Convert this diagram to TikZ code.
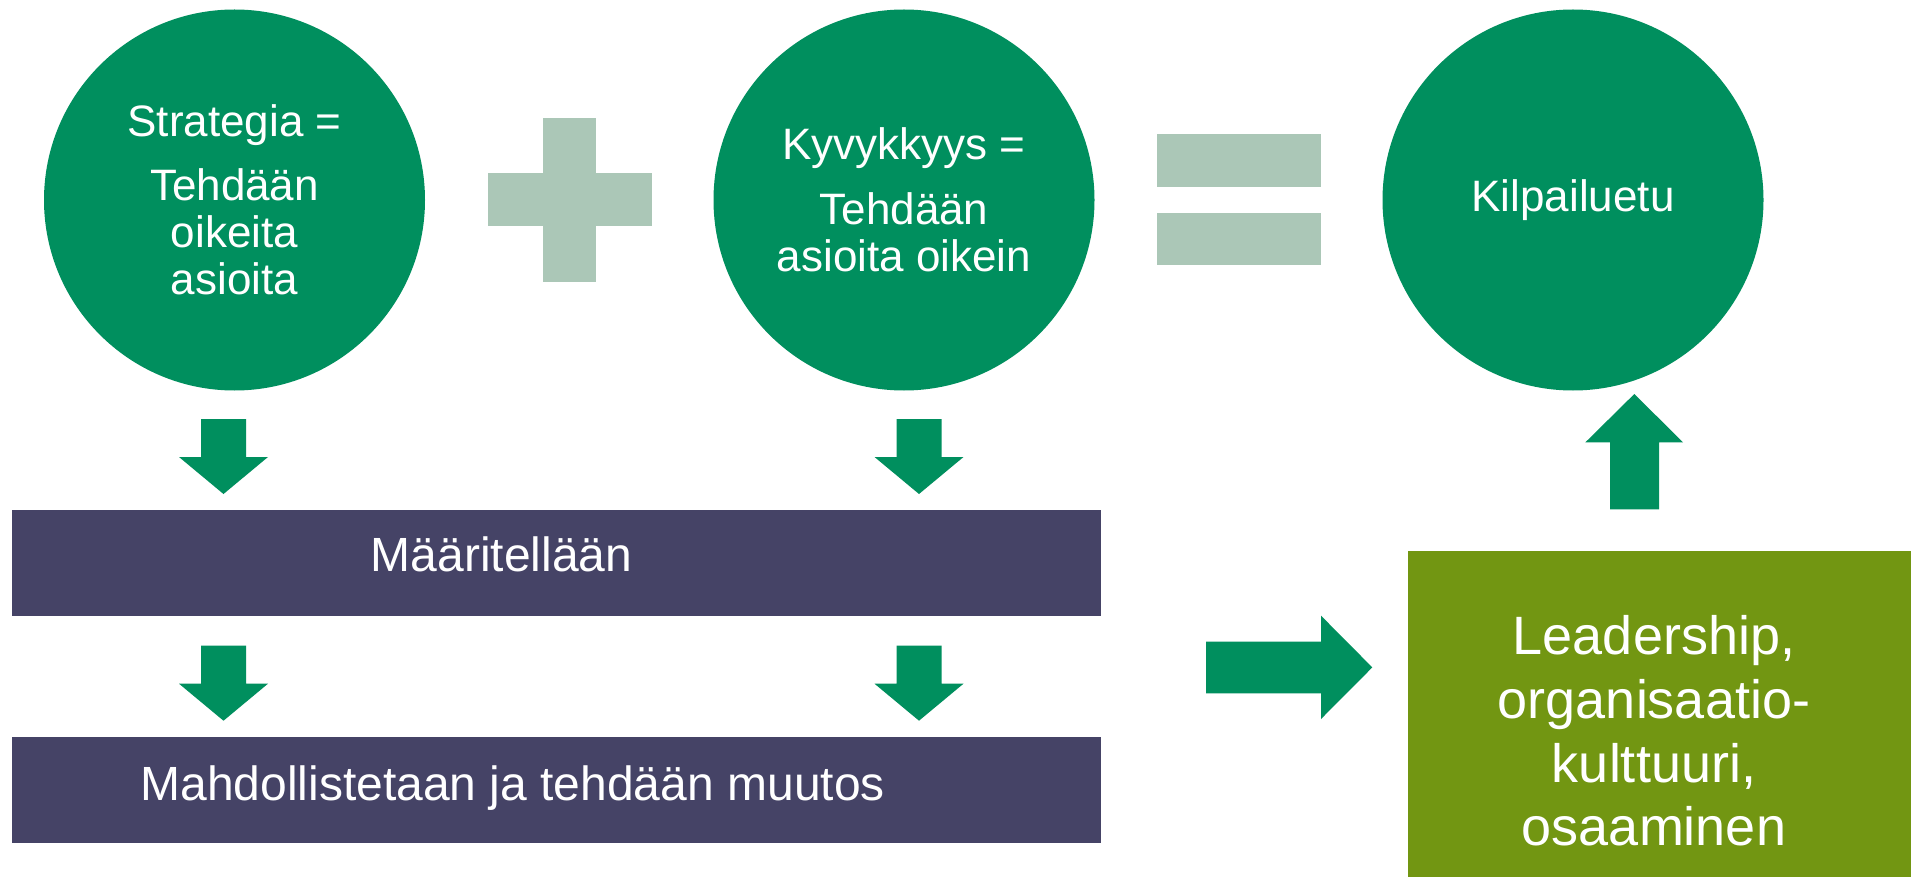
\documentclass[tikz,border=0pt]{standalone}
\usepackage{fontspec}
\setmainfont{Liberation Sans}
\definecolor{circgreen}{HTML}{008F5E}
\definecolor{opgray}{HTML}{ABC7B7}
\definecolor{barpurple}{HTML}{454366}
\definecolor{olivebox}{HTML}{729612}
\begin{document}
\begin{tikzpicture}[x=1pt,y=-1pt,
  circ/.style={circle,fill=circgreen,minimum size=381pt,inner sep=0pt,text=white,align=center,font=\fontsize{44}{47}\selectfont},
  barbox/.style={rectangle,fill=barpurple,inner sep=0pt,minimum width=1089pt,minimum height=105.7pt},
  bartext/.style={anchor=base,text=white,inner sep=0pt,font=\fontsize{48}{54}\selectfont},
  leadbox/.style={rectangle,fill=olivebox,inner sep=0pt,minimum width=520pt,minimum height=350pt},
  leadtext/.style={text=white,align=center,inner sep=0pt,font=\fontsize{54}{63.7}\selectfont},
  opfill/.style={fill=opgray},
  arrowfill/.style={fill=circgreen}]
\clip (0,0) rectangle (1911,877);
\fill[white] (0,0) rectangle (1911,877);

% circles
\node[circ] (strat) at (234.5,200) {Strategia =\\[17pt]Tehdään\\oikeita\\asioita};
\node[circ] (kyvy) at (904,200) {Kyvykkyys =\\[18pt]Tehdään\\asioita oikein};
\node[circ] (kilp) at (1573,200) {Kilpailuetu};

% plus
\fill[opfill] (543.3,117.7) rectangle (596,281.7);
\fill[opfill] (487.5,173.3) rectangle (651.8,226);
% equals
\fill[opfill] (1157,134) rectangle (1320.8,186.7);
\fill[opfill] (1157,212.7) rectangle (1320.8,265.3);

% bars
\node[barbox] (maar) at (556.2,562.9) {};
\node[bartext] (maartxt) at (501.6,571) {Määritellään};
\node[barbox] (mahd) at (556.2,789.9) {};
\node[bartext] (mahdtxt) at (512.7,800) {Mahdollistetaan ja tehdään muutos};

% olive box
\node[leadbox] (lead) at (1668,726) {};
\node[leadtext] (leadtxt) at (1654,731) {Leadership,\\organisaatio-\\kulttuuri,\\osaaminen};

% down arrows
\newcommand\dnarrow[2]{\fill[arrowfill] (#1-22.5,#2) -- (#1+22.5,#2) -- (#1+22.5,#2+38) -- (#1+44.5,#2+38) -- (#1,#2+75) -- (#1-44.5,#2+38) -- (#1-22.5,#2+38) -- cycle;}
\dnarrow{223.5}{419}
\dnarrow{919}{419}
\dnarrow{223.5}{645.7}
\dnarrow{919}{645.7}

% up arrow
\fill[arrowfill] (1610,509.3) -- (1659,509.3) -- (1659,442.3) -- (1683,442.3) -- (1634.3,394) -- (1585.4,442.3) -- (1610,442.3) -- cycle;
% right arrow
\fill[arrowfill] (1206,641.7) -- (1321,641.7) -- (1321,615.7) -- (1372.3,667.4) -- (1321,719) -- (1321,693.3) -- (1206,693.3) -- cycle;
\end{tikzpicture}
\end{document}
